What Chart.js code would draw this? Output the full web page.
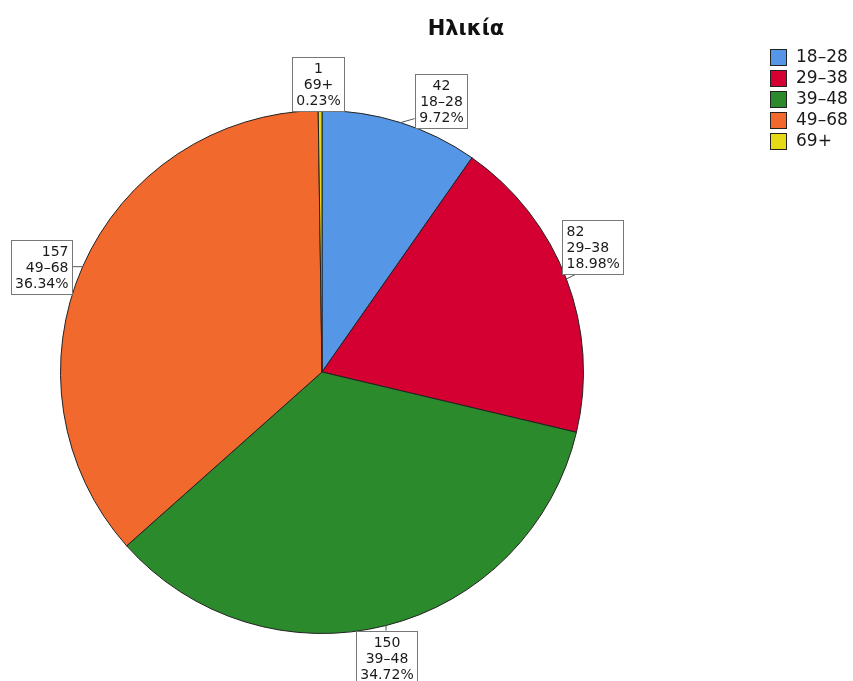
<!DOCTYPE html>
<html>
<head>
<meta charset="utf-8">
<script src="https://cdn.jsdelivr.net/npm/chart.js@4"></script>
<style>
  html, body { margin: 0; padding: 0; background: #fff; }
  canvas { display: block; }
</style>
</head>
<body>
<canvas id="chart" width="853" height="681"></canvas>
<script>
// Pie chart: age groups

const chartTitle = "Ηλικία";
const ageGroups = ["18–28", "29–38", "39–48", "49–68", "69+"];
const counts = [42, 82, 150, 157, 1];
const sliceColors = ["#5596e6", "#d50032", "#2b8a2b", "#f1692d", "#e6d916"];

const total = counts.reduce((a, b) => a + b, 0);
const pct = (i) => (counts[i] / total * 100).toFixed(2) + "%";

// where each label box sits relative to the edge of its slice
const labelPlacement = ["upRight", "aboveRight", "below", "left", "above"];
const labelAlign = ["center", "left", "center", "right", "center"];

const FONT = "'DejaVu Sans', sans-serif";

const sliceLabels = {
    id: "sliceLabels",
    afterDatasetsDraw(chart) {
        const ctx = chart.ctx;
        const meta = chart.getDatasetMeta(0);
        ctx.save();
        ctx.font = "14px " + FONT;
        ctx.lineWidth = 1;
        meta.data.forEach((arc, i) => {
            const { x, y, startAngle, endAngle, outerRadius } =
                arc.getProps(["x", "y", "startAngle", "endAngle", "outerRadius"], true);
            const mid = (startAngle + endAngle) / 2;
            const px = x + Math.cos(mid) * outerRadius;
            const py = y + Math.sin(mid) * outerRadius;

            const lines = [String(counts[i]), ageGroups[i], pct(i)];
            const w = Math.round(Math.max(...lines.map(t => ctx.measureText(t).width)) + 8);
            const h = lines.length * 16 + 6;

            let bx, by, lead = null;
            switch (labelPlacement[i]) {
                case "upRight":
                    bx = px + 14; by = py - h + 5;
                    lead = [px, py, bx, py - 4];
                    break;
                case "aboveRight":
                    bx = px - 4; by = py - h - 5;
                    lead = [px, py, px + 10, by + h];
                    break;
                case "below":
                    bx = px - w / 2; by = py + 5;
                    lead = [px, py, px, by];
                    break;
                case "left":
                    bx = px - 11 - w; by = py - h / 2;
                    lead = [px, py, bx + w, py];
                    break;
                default:
                    bx = px - w / 2 - 2; by = py - h;
            }
            bx = Math.round(bx) + 0.5;
            by = Math.round(by) + 0.5;

            if (lead) {
                ctx.strokeStyle = "#555";
                ctx.beginPath();
                ctx.moveTo(lead[0], lead[1]);
                ctx.lineTo(lead[2], lead[3]);
                ctx.stroke();
            }

            ctx.fillStyle = "#fff";
            ctx.fillRect(bx, by, w, h);
            ctx.strokeStyle = "#777";
            ctx.strokeRect(bx, by, w, h);

            ctx.fillStyle = "#1a1a1a";
            ctx.textBaseline = "middle";
            ctx.textAlign = labelAlign[i];
            let tx = bx + w / 2;
            if (labelAlign[i] === "left") tx = bx + 4;
            if (labelAlign[i] === "right") tx = bx + w - 4;
            lines.forEach((t, k) => ctx.fillText(t, tx, by + 3 + 8 + 16 * k + 1));
        });
        ctx.restore();
    },
    afterDraw(chart) {
        const ctx = chart.ctx;
        ctx.save();

        // title
        ctx.fillStyle = "#111";
        ctx.font = "bold 21px " + FONT;
        ctx.textAlign = "center";
        ctx.textBaseline = "alphabetic";
        ctx.fillText(chartTitle, 466, 35);

        // legend
        ctx.font = "17px " + FONT;
        ctx.textAlign = "left";
        ctx.textBaseline = "middle";
        ageGroups.forEach((g, i) => {
            const top = 49 + i * 21;
            ctx.fillStyle = sliceColors[i];
            ctx.fillRect(770.5, top + 0.5, 16, 16);
            ctx.strokeStyle = "#222";
            ctx.lineWidth = 1;
            ctx.strokeRect(770.5, top + 0.5, 16, 16);
            ctx.fillStyle = "#1a1a1a";
            ctx.fillText(g, 796, top + 9);
        });
        ctx.restore();
    }
};

new Chart(document.getElementById("chart"), {
    type: "pie",
    data: {
        labels: ageGroups,
        datasets: [{
            data: counts,
            backgroundColor: sliceColors,
            borderColor: "#222",
            borderWidth: 1
        }]
    },
    options: {
        responsive: false,
        animation: false,
        layout: {
            padding: { left: 60, right: 269, top: 110, bottom: 47 }
        },
        plugins: {
            legend: { display: false },
            title: { display: false },
            tooltip: { enabled: false }
        }
    },
    plugins: [sliceLabels]
});
</script>
</body>
</html>
